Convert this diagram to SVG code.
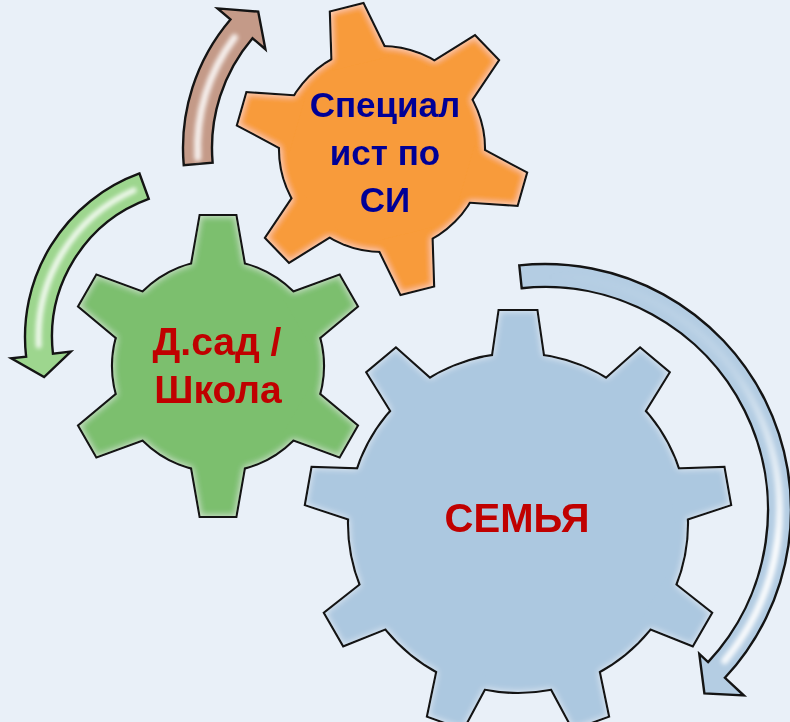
<svg xmlns="http://www.w3.org/2000/svg" xmlns:xlink="http://www.w3.org/1999/xlink" width="790" height="722" viewBox="0 0 790 722">
<style>
.edge{fill:#141414;stroke:#141414;stroke-width:4.2;stroke-linejoin:miter}
.arrow{stroke:#141414;stroke-width:2.4;stroke-linejoin:miter}
.hl{fill:none;stroke-linecap:round}
.lbl{font-family:"Liberation Sans",Arial,"Noto Sans",sans-serif;font-weight:bold;text-anchor:middle}
</style>
<defs>
<path id="tG" d="M-28,-90 L-17.5,-150 L17.5,-150 L28,-90 Z"/>
<path id="tO" d="M-28.75,-88 L-16.5,-145 L16.5,-145 L28.75,-88 Z"/>
<path id="tB" d="M-26.75,-155 L-18.5,-212 L18.5,-212 L26.75,-155 Z"/>
<g id="shG"><circle r="105"/><use href="#tG"/><use href="#tG" transform="rotate(60)"/><use href="#tG" transform="rotate(120)"/><use href="#tG" transform="rotate(180)"/><use href="#tG" transform="rotate(240)"/><use href="#tG" transform="rotate(300)"/></g>
<g id="shO"><circle r="102"/><use href="#tO" transform="rotate(-14)"/><use href="#tO" transform="rotate(46)"/><use href="#tO" transform="rotate(106)"/><use href="#tO" transform="rotate(166)"/><use href="#tO" transform="rotate(226)"/><use href="#tO" transform="rotate(286)"/></g>
<g id="shB"><circle r="169"/><use href="#tB"/><use href="#tB" transform="rotate(40)"/><use href="#tB" transform="rotate(80)"/><use href="#tB" transform="rotate(120)"/><use href="#tB" transform="rotate(160)"/><use href="#tB" transform="rotate(200)"/><use href="#tB" transform="rotate(240)"/><use href="#tB" transform="rotate(280)"/><use href="#tB" transform="rotate(320)"/></g>
<filter id="bevel" x="-10%" y="-10%" width="120%" height="120%">
<feGaussianBlur in="SourceAlpha" stdDeviation="3.5" result="b"/>
<feComposite in="SourceAlpha" in2="b" operator="out" result="rim"/>
<feFlood flood-color="#ffffff" flood-opacity="0.6"/>
<feComposite in2="rim" operator="in" result="glow"/>
<feMerge><feMergeNode in="SourceGraphic"/><feMergeNode in="glow"/></feMerge>
</filter>
<filter id="blur" x="-20%" y="-20%" width="140%" height="140%"><feGaussianBlur stdDeviation="2.2"/></filter>
<linearGradient id="blueHl" gradientUnits="userSpaceOnUse" x1="545" y1="275" x2="725" y2="660">
<stop offset="0" stop-color="#fff" stop-opacity="0"/>
<stop offset="0.4" stop-color="#fff" stop-opacity="0.15"/>
<stop offset="0.8" stop-color="#fff" stop-opacity="0.95"/>
<stop offset="1" stop-color="#fff" stop-opacity="0.9"/>
</linearGradient>
</defs>
<rect width="790" height="722" fill="#e9f0f8"/>

<g id="connectors">
<g id="arrow-brown">
<path class="arrow" fill="#c49a88" d="M183.75,165.26 A198,198 0 0 1 230.44,19.41 L217.51,8.37 L258.21,11.63 L265.42,49.28 L252.49,38.24 A169,169 0 0 0 212.64,162.73 Z"/>
<path class="hl" stroke="#ffffff" stroke-width="7" opacity="0.85" filter="url(#blur)" d="M197.75,157.6 A183.5,183.5 0 0 1 234.45,37.57"/>
</g>
<g id="arrow-green">
<path class="arrow" fill="#9dd68e" d="M139.49,173.49 A174,174 0 0 0 26.12,356.70 L11.22,358.39 L44.10,377.06 L70.83,351.60 L52.95,353.64 A147,147 0 0 1 148.72,198.87 Z"/>
<path class="hl" stroke="#ffffff" stroke-width="6" opacity="0.85" filter="url(#blur)" d="M133.72,190.38 A160.5,160.5 0 0 0 38.72,345.4"/>
</g>
<g id="arrow-blue">
<path class="arrow" fill="#b4cde3" d="M519.29,265.35 A246,246 0 0 1 724.91,677.77 L743.9,695.5 L704.4,693.4 L699.3,653.9 L708.09,662.09 A223,223 0 0 0 521.69,288.22 Z"/>
<path class="hl" stroke="url(#blueHl)" stroke-width="7" filter="url(#blur)" d="M545,275.5 A234.5,234.5 0 0 1 724.64,660.73"/>
</g>
</g>

<g id="gear-family" transform="translate(518,523)">
<use href="#shB" class="edge"/>
<use href="#shB" fill="#acc8e0" filter="url(#bevel)"/>
</g>
<g id="gear-specialist" transform="translate(382,149)">
<use href="#shO" class="edge"/>
<use href="#shO" fill="#f89b3a" filter="url(#bevel)"/>
</g>
<g id="gear-school" transform="translate(218,366)">
<use href="#shG" class="edge"/>
<use href="#shG" fill="#7cbf6e" filter="url(#bevel)"/>
</g>

<g id="labels">
<text class="lbl" fill="#000096" font-size="35" x="385" y="117">Специал</text>
<text class="lbl" fill="#000096" font-size="35" x="385" y="165">ист по</text>
<text class="lbl" fill="#000096" font-size="35" x="385" y="212">СИ</text>
<text class="lbl" fill="#c00000" font-size="39" x="217" y="355">Д.сад /</text>
<text class="lbl" fill="#c00000" font-size="39" x="218" y="403">Школа</text>
<text class="lbl" fill="#c00000" font-size="40" x="517" y="532">СЕМЬЯ</text>
</g>
</svg>
